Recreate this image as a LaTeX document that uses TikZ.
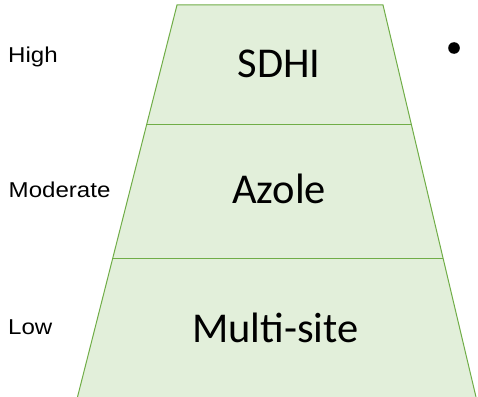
\documentclass[tikz,border=0pt]{standalone}
\usepackage{fontspec}
\setmainfont{Carlito}
\newfontfamily\lblfont[FakeStretch=1.12]{Liberation Sans}
\definecolor{tierfill}{HTML}{E2EFDA}
\definecolor{tierline}{HTML}{70AD47}
\begin{document}
\begin{tikzpicture}[x=1pt,y=-1pt,
  tiertext/.style={anchor=base,inner sep=0pt,font=\fontsize{42.5}{50}\selectfont},
  sidetext/.style={anchor=base west,inner sep=0pt,font=\lblfont\fontsize{21.5}{26}\selectfont},
  edge/.style={draw=tierline,line width=1pt}]
\useasboundingbox (0,0) rectangle (478,396);
% trapezoid corners
\coordinate (tl) at (177,5);
\coordinate (tr) at (383,5);
\coordinate (bl) at (77.5,397);
\coordinate (br) at (476,397);
\fill[tierfill] (tl) -- (tr) -- (br) -- (bl) -- cycle;
\draw[edge] (bl) -- (tl) -- (tr) -- (br);
% divider lines
\coordinate (d1l) at (146.9,124);
\coordinate (d1r) at (411.3,124);
\coordinate (d2l) at (113,258);
\coordinate (d2r) at (443.2,258);
\draw[edge] (d1l) -- (d1r);
\draw[edge] (d2l) -- (d2r);
% tier labels
\node[tiertext] (sdhi) at (279,77) {SDHI};
\node[tiertext] (azole) at (279,203) {Azole};
\node[tiertext] (multi) at (275.5,342) {Multi-site};
% side labels
\node[sidetext] (high) at (8,63) {High};
\node[sidetext] (mod) at (8.5,197) {Moderate};
\node[sidetext] (low) at (8,334) {Low};
% bullet
\fill[black] (454,48) circle (5.8);
\end{tikzpicture}
\end{document}
